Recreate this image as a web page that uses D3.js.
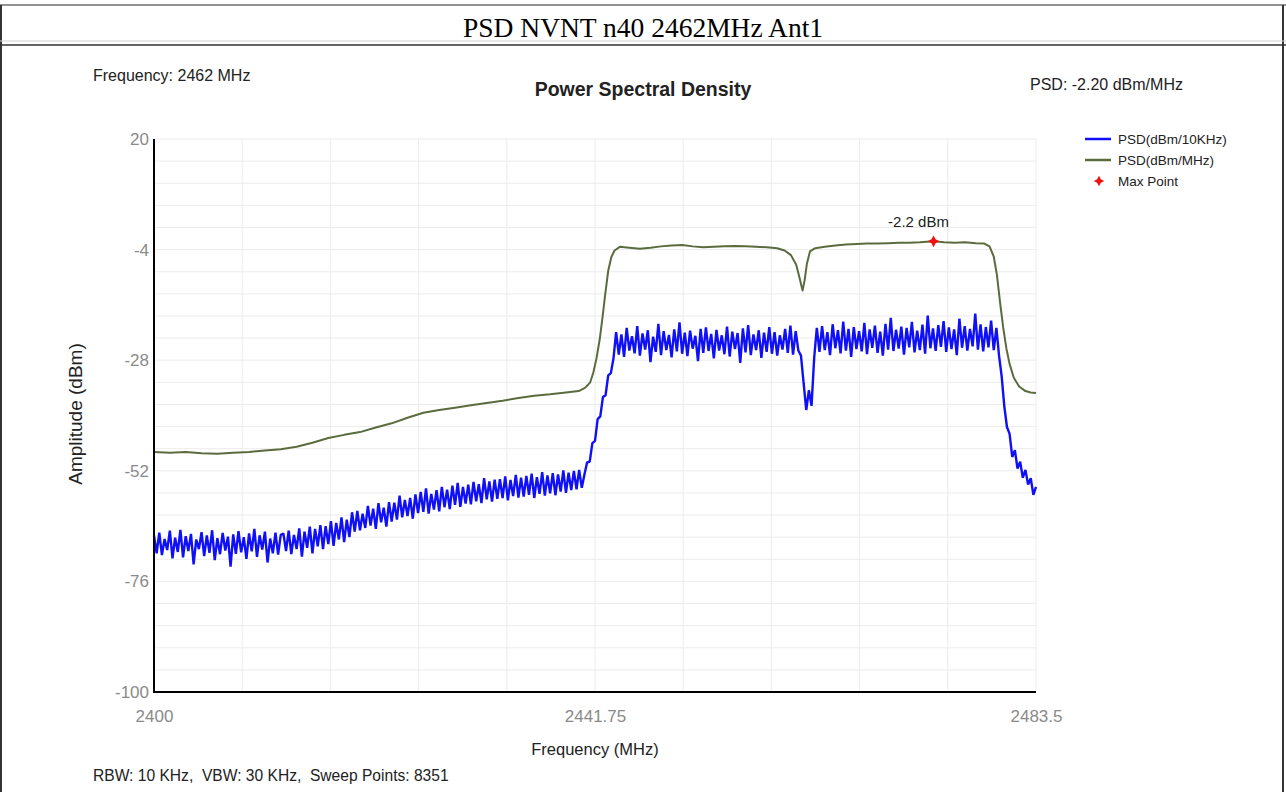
<!DOCTYPE html>
<html><head><meta charset="utf-8">
<script src="https://cdn.jsdelivr.net/npm/d3@7"></script>
<style>
body{margin:0;background:#fff}
svg{display:block}
text{font-family:"Liberation Sans",Arial,sans-serif}
</style>
</head><body>
<svg id="c" width="1286" height="792"></svg>
<script>
// ---------- data ----------
const xDomain = [2400, 2483.5];
const yDomain = [-100, 20];
const xTickValues = [2400, 2441.75, 2483.5];
const xTickLabels = ["2400", "2441.75", "2483.5"];
const yTickValues = [20, -4, -28, -52, -76, -100];

// PSD (dBm/10KHz) trace, sampled every 0.25 MHz from 2400 MHz
const blueStart = 2400, blueStep = 0.25;
const blueValues = [
-66.1,-69.9,-65.4,-70.3,-66.8,-69.2,-65.0,-71.0,-66.5,-69.6,
-64.8,-70.8,-66.2,-69.4,-65.7,-72.3,-66.9,-69.0,-65.3,-70.5,
-66.0,-69.8,-64.9,-71.4,-66.6,-70.1,-65.5,-69.3,-66.3,-72.8,
-65.8,-70.0,-65.1,-69.7,-66.4,-71.1,-65.6,-69.5,-64.6,-70.7,
-66.0,-69.1,-65.2,-71.9,-66.7,-69.9,-65.4,-70.2,-65.9,
-65.6,-69.4,-65.0,-70.1,-65.9,-69.0,-64.5,-70.6,-65.2,-68.7,
-64.1,-69.9,-64.6,-68.4,-63.8,-69.0,-64.0,-67.9,-62.9,-68.3,
-63.3,-66.9,-62.1,-67.5,-62.6,-66.4,
-61.0,-65.2,-60.7,-64.9,-61.3,
-64.4,-59.6,-63.9,-60.2,-64.6,-59.0,-63.2,-60.0,-64.1,-58.8,
-63.0,-58.9,-62.6,-57.4,-62.1,-58.3,-61.8,-57.9,-62.4,-57.1,
-61.2,-56.6,-60.9,-55.8,-61.3,-57.0,-60.4,-56.2,-60.8,-55.5,
-59.9,-56.1,-60.3,-55.2,-59.4,-54.6,-59.8,-55.5,-59.1,-55.0,
-59.3,-54.4,-58.6,-54.9,-59.0,-53.6,-58.2,-54.3,-58.7,-53.9,
-58.1,-53.8,-57.9,-53.2,-58.4,-54.0,-57.5,-52.9,-57.8,-53.5,
-57.6,-53.1,-57.2,-52.6,-57.9,-53.4,-57.0,-52.3,-57.4,-53.0,
-56.9,-52.5,-57.3,-52.8,-56.5,-51.9,-56.8,-52.4,-56.2,-52.0,
-56.0,-51.8,-55.7,
-52.8,-50.2,-50.0,-46.0,-45.5,-40.8,-40.2,-36.0,-35.6,-31.3,-30.8,-27.6,
-21.9,-26.8,-22.4,-27.3,-21.0,-25.9,-22.8,-26.5,-20.6,-27.0,
-22.2,-25.7,-21.5,-28.4,-22.9,-26.2,-20.1,-26.9,-21.7,-25.8,
-22.5,-27.4,-21.3,-26.1,-19.8,-26.6,-22.0,-27.1,-21.6,-25.5,
-22.7,-28.2,-21.2,-26.4,-20.9,-26.0,-22.3,-27.6,-21.4,-25.9,
-22.6,-26.7,-20.7,-27.2,-21.8,-25.6,-22.1,-28.6,-21.1,-26.3,
-20.4,-26.9,-22.4,-25.8,-21.5,-27.5,-22.0,-26.2,-20.8,-26.6,
-21.9,-27.0,-22.6,-25.7,-21.2,-26.4,-20.5,-26.8,-21.7,-25.9,
-27.0,-33.0,-38.8,-34.5,-37.9,-27.5,
-21.0,-26.2,-20.6,-25.8,-21.9,-26.9,-20.2,-25.4,-21.5,-26.5,
-19.6,-25.9,-21.2,-27.3,-20.8,-25.6,-21.7,-26.1,-19.9,-26.7,
-21.3,-25.3,-20.5,-26.4,-21.8,-27.0,-20.1,-25.7,-18.8,-26.0,
-21.4,-25.5,-20.7,-26.8,-21.0,-25.2,-19.7,-26.3,-21.6,-25.8,
-20.3,-26.6,-18.3,-25.4,-21.1,-26.0,-20.4,-25.1,-19.5,-26.2,
-20.9,-25.6,-21.3,-26.9,-19.0,-25.3,-20.6,-25.9,-21.2,-25.0,
-17.9,-25.7,-20.2,-26.1,-20.8,-25.2,-19.4,-25.8,-21.0,
-27.0,-31.5,-38.0,-42.5,-44.0,-49.0,-47.5,-51.5,-50.0,-53.5,-51.8,-55.0,-53.6,-57.2,-55.5
];

// PSD (dBm/MHz) trace
const greenFreq = [
2400.0,2401.5,2403.0,2404.5,2406.0,2407.5,2409.0,2410.5,2412.0,2413.5,
2415.0,2416.5,2418.0,2419.5,2421.0,2422.5,2424.0,2425.5,2427.0,2428.5,
2430.0,2431.5,2433.0,2434.5,2436.0,2437.5,2439.0,2440.2,2440.8,2441.3,
2441.6,2441.9,2442.2,2442.5,2442.7,2443.0,2443.3,2443.6,2444.1,2445.0,
2446.0,2447.0,2448.0,2449.0,2450.0,2451.0,2452.0,2453.0,2454.0,2455.0,
2456.0,2457.0,2458.0,2459.0,2459.7,2460.3,2460.8,2461.1,2461.4,2461.6,
2461.8,2462.1,2462.6,2463.5,2464.5,2465.5,2466.5,2467.5,2468.5,2469.5,
2470.5,2471.5,2472.5,2473.8,2474.8,2475.8,2476.8,2477.8,2478.6,2479.1,
2479.5,2479.8,2480.1,2480.4,2480.7,2481.0,2481.4,2481.9,2482.5,2483.0,
2483.5
];
const greenValues = [
-47.9,-48.1,-47.9,-48.2,-48.3,-48.1,-47.9,-47.6,-47.3,-46.8,
-45.9,-44.9,-44.2,-43.6,-42.6,-41.7,-40.5,-39.4,-38.8,-38.3,
-37.8,-37.3,-36.8,-36.2,-35.7,-35.4,-35.0,-34.7,-34.0,-32.8,
-30.6,-27.5,-23.4,-18.0,-14.0,-8.6,-5.6,-4.2,-3.4,-3.6,
-3.8,-3.6,-3.3,-3.1,-3.0,-3.3,-3.5,-3.4,-3.3,-3.2,
-3.3,-3.4,-3.5,-3.7,-4.2,-5.2,-7.3,-10.0,-12.9,-10.6,
-7.2,-4.4,-3.7,-3.4,-3.1,-2.9,-2.8,-2.7,-2.7,-2.6,
-2.5,-2.5,-2.4,-2.2,-2.4,-2.5,-2.4,-2.6,-2.7,-3.3,
-5.5,-9.5,-15.5,-21.0,-25.5,-28.8,-31.8,-33.7,-34.7,-35.0,
-35.1
];

const maxFreq = [2473.8];
const maxValue = [-2.2];

// ---------- drawing ----------
const svg = d3.select("#c");
const W = 1286, H = 792;
const plot = {left:154, right:1036, top:139, bottom:692};
const x = d3.scaleLinear().domain(xDomain).range([plot.left, plot.right]);
const y = d3.scaleLinear().domain(yDomain).range([plot.bottom, plot.top]);

const blueColor = "#1010f8", greenColor = "#5c6b3e", gridColor = "#ececec";

// outer table frame
svg.append("line").attr("x1",0).attr("x2",W).attr("y1",5).attr("y2",5).attr("stroke","#6f6f6f").attr("stroke-width",1.6);
svg.append("line").attr("x1",1).attr("x2",1).attr("y1",5).attr("y2",H).attr("stroke","#333").attr("stroke-width",2);
svg.append("line").attr("x1",1283).attr("x2",1283).attr("y1",5).attr("y2",H).attr("stroke","#333").attr("stroke-width",2);
svg.append("line").attr("x1",0).attr("x2",W).attr("y1",41).attr("y2",41).attr("stroke","#d0d0d0").attr("stroke-width",1);
svg.append("line").attr("x1",0).attr("x2",W).attr("y1",45).attr("y2",45).attr("stroke","#333").attr("stroke-width",1.5);

svg.append("text").attr("x",643).attr("y",37).attr("text-anchor","middle")
  .style("font-family",'"Liberation Serif","Times New Roman",serif').style("font-size","27.5px").attr("fill","#000")
  .text("PSD NVNT n40 2462MHz Ant1");

// grid
const vGrid = d3.range(0, 11).map(i => xDomain[0] + i*(xDomain[1]-xDomain[0])/10);
const hGrid = d3.range(0, 26).map(i => yDomain[0] + i*(yDomain[1]-yDomain[0])/25);
svg.append("g").selectAll("line").data(vGrid).join("line")
  .attr("x1",d=>x(d)).attr("x2",d=>x(d)).attr("y1",plot.top).attr("y2",plot.bottom)
  .attr("stroke",gridColor).attr("stroke-width",1);
svg.append("g").selectAll("line").data(hGrid).join("line")
  .attr("x1",plot.left).attr("x2",plot.right).attr("y1",d=>y(d)).attr("y2",d=>y(d))
  .attr("stroke",gridColor).attr("stroke-width",1);

// axes
const yAxis = d3.axisLeft(y).tickValues(yTickValues).tickSize(0).tickPadding(5).tickFormat(d=>String(d));
const gy = svg.append("g").attr("transform",`translate(${plot.left},0)`).call(yAxis);
gy.select(".domain").remove();
gy.selectAll("text").style("font-size","17px").attr("fill","#8a8a8a").style("font-family",'"Liberation Sans",Arial,sans-serif');

const xAxis = d3.axisBottom(x).tickValues(xTickValues).tickSize(0).tickPadding(18)
  .tickFormat((d,i)=>xTickLabels[i]);
const gx = svg.append("g").attr("transform",`translate(0,${plot.bottom})`).call(xAxis);
gx.select(".domain").remove();
gx.selectAll("text").style("font-size","17px").attr("fill","#8a8a8a").style("font-family",'"Liberation Sans",Arial,sans-serif');

// lines
const blueData = blueValues.map((v,i)=>({f: blueStart + i*blueStep, v}));
const greenData = greenFreq.map((f,i)=>({f, v: greenValues[i]}));
const line = d3.line().x(d=>x(d.f)).y(d=>y(d.v));

svg.append("path").datum(greenData).attr("d",line).attr("fill","none")
  .attr("stroke",greenColor).attr("stroke-width",2).attr("stroke-linejoin","round");
svg.append("path").datum(blueData).attr("d",line).attr("fill","none")
  .attr("stroke",blueColor).attr("stroke-width",2.4).attr("stroke-linejoin","bevel");

// axis lines
svg.append("line").attr("x1",plot.left).attr("x2",plot.left).attr("y1",plot.top).attr("y2",plot.bottom+1).attr("stroke","#000").attr("stroke-width",2);
svg.append("line").attr("x1",plot.left).attr("x2",plot.right).attr("y1",plot.bottom).attr("y2",plot.bottom).attr("stroke","#000").attr("stroke-width",2);

// max point marker
const star4 = {draw(ctx, size){
  const r = Math.sqrt(size)/1.2, s = r*0.35;
  ctx.moveTo(0,-r); ctx.lineTo(s,-s); ctx.lineTo(r,0); ctx.lineTo(s,s);
  ctx.lineTo(0,r); ctx.lineTo(-s,s); ctx.lineTo(-r,0); ctx.lineTo(-s,-s); ctx.closePath();
}};
svg.append("g").selectAll("path").data(maxFreq).join("path")
  .attr("transform",(d,i)=>`translate(${x(d)},${y(maxValue[i])})`)
  .attr("d",d3.symbol(star4,50)()).attr("fill","#f01010");
svg.append("g").selectAll("text").data(maxFreq).join("text")
  .attr("x",d=>x(d)-15).attr("y",(d,i)=>y(maxValue[i])-14).attr("text-anchor","middle")
  .style("font-size","15px").attr("fill","#222").text((d,i)=>maxValue[i].toFixed(1)+" dBm");

// texts
svg.append("text").attr("x",93).attr("y",81).style("font-size","16px").attr("fill","#222").text("Frequency: 2462 MHz");
svg.append("text").attr("x",643).attr("y",96).attr("text-anchor","middle").style("font-size","19.5px").style("font-weight","bold").attr("fill","#222").text("Power Spectral Density");
svg.append("text").attr("x",1030).attr("y",90).style("font-size","16px").attr("fill","#222").text("PSD: -2.20 dBm/MHz");
svg.append("text").attr("x",595).attr("y",755).attr("text-anchor","middle").style("font-size","16.5px").attr("fill","#222").text("Frequency (MHz)");
svg.append("text").attr("transform","translate(82,414) rotate(-90)").attr("text-anchor","middle").style("font-size","19px").attr("fill","#222").text("Amplitude (dBm)");
svg.append("text").attr("x",93).attr("y",781).style("font-size","15.6px").attr("fill","#222").text("RBW: 10 KHz,  VBW: 30 KHz,  Sweep Points: 8351").attr("xml:space","preserve").style("white-space","pre");

// legend
const legendItems = ["PSD(dBm/10KHz)", "PSD(dBm/MHz)", "Max Point"];
const legendColors = [blueColor, greenColor, "#f01010"];
const lg = svg.append("g");
legendItems.forEach((t,i)=>{
  const ly = [139,160,181][i];
  if (i < 2) {
    lg.append("line").attr("x1",1085).attr("x2",1111).attr("y1",ly).attr("y2",ly).attr("stroke",legendColors[i]).attr("stroke-width",2.5);
  } else {
    lg.append("path").attr("transform",`translate(1099,${ly})`).attr("d",d3.symbol(star4,40)()).attr("fill",legendColors[i]);
  }
  lg.append("text").attr("x",1118).attr("y",ly+4.5).style("font-size","13.5px").attr("fill","#222").text(t);
});
</script>
</body></html>
